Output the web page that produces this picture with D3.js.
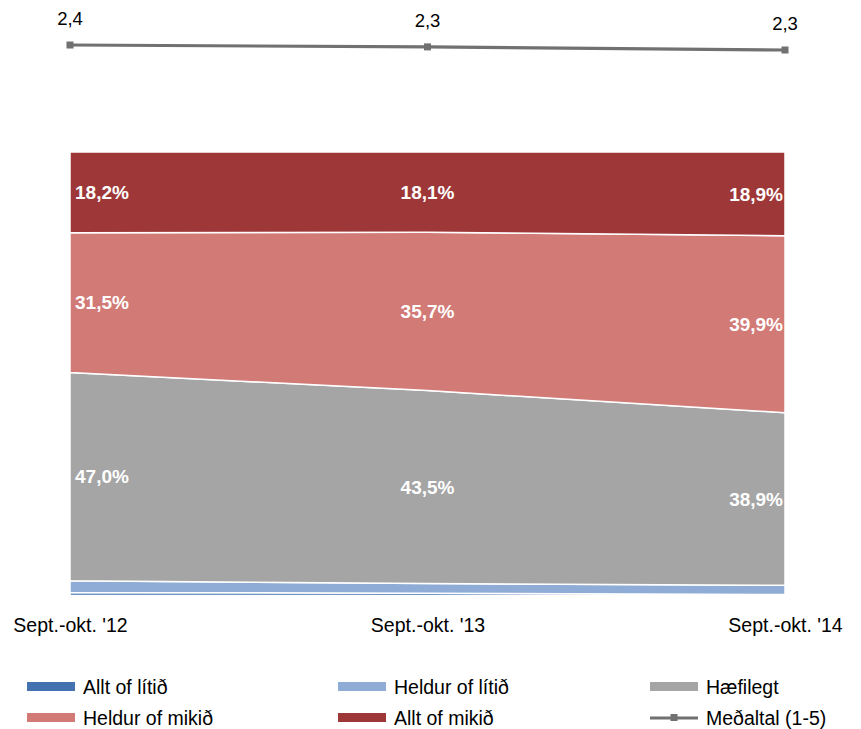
<!DOCTYPE html>
<html><head><meta charset="utf-8">
<script src="https://cdn.jsdelivr.net/npm/d3@7"></script>
<style>
body{margin:0;background:#fff;}
svg{display:block;font-family:"Liberation Sans Narrow","Liberation Sans",Arial,sans-serif;}
</style></head>
<body>
<svg id="c" width="861" height="729"></svg>
<script>
const categories = ["Sept.-okt. '12", "Sept.-okt. '13", "Sept.-okt. '14"];
const seriesNames = ["Allt of lítið", "Heldur of lítið", "Hæfilegt", "Heldur of mikið", "Allt of mikið"];
const alltOfLitid = [0.7, 0.5, 0.2];
const heldurOfLitid = [2.6, 2.2, 2.1];
const haefilegt = [47.0, 43.5, 38.9];
const heldurOfMikid = [31.5, 35.7, 39.9];
const alltOfMikid = [18.2, 18.1, 18.9];
const medaltal = [2.37, 2.34, 2.29];
const colors = ["#4472B0", "#8EACD6", "#A5A5A5", "#D17A76", "#9E3838"];
const lineColor = "#717171";
const showLabel = [false, false, true, true, true];

const svg = d3.select("#c");
const x = d3.scalePoint().domain(categories).range([70, 785]);
const y = d3.scaleLinear().domain([0, 100]).range([595.5, 152]);
const yMean = d3.scaleLinear().domain([2.0, 2.5]).range([68.1, 36.9]);

const table = categories.map((c, i) => ({
  cat: c,
  [seriesNames[0]]: alltOfLitid[i],
  [seriesNames[1]]: heldurOfLitid[i],
  [seriesNames[2]]: haefilegt[i],
  [seriesNames[3]]: heldurOfMikid[i],
  [seriesNames[4]]: alltOfMikid[i]
}));
const stacked = d3.stack().keys(seriesNames)(table);

const area = d3.area()
  .x(d => x(d.data.cat))
  .y0(d => y(d[0]))
  .y1(d => y(d[1]));

svg.append("g").selectAll("path").data(stacked).join("path")
  .attr("d", area)
  .attr("fill", (d, i) => colors[i])
  .attr("stroke", "#fff")
  .attr("stroke-width", 1.5);

// percentage labels
const fmtPct = v => d3.format(".1f")(v).replace(".", ",") + "%";
stacked.forEach((s, si) => {
  if (!showLabel[si]) return;
  s.forEach((d, i) => {
    const anchor = i === 0 ? "start" : (i === categories.length - 1 ? "end" : "middle");
    const dx = i === 0 ? 5 : (i === categories.length - 1 ? -2 : 0);
    svg.append("text")
      .attr("x", x(d.data.cat) + dx)
      .attr("y", (y(d[0]) + y(d[1])) / 2)
      .attr("dy", "0.36em")
      .attr("text-anchor", anchor)
      .attr("fill", "#fff")
      .attr("font-family", "'Liberation Sans',Arial,sans-serif")
      .attr("font-weight", "bold")
      .attr("font-size", 19)
      .text(fmtPct(d[1] - d[0]));
  });
});

// category axis labels
const xAxis = d3.axisBottom(x).tickSize(0).tickPadding(0);
const gx = svg.append("g").attr("transform", "translate(0,0)").call(xAxis);
gx.select(".domain").remove();
gx.selectAll("text").attr("font-size", 19.5).attr("fill", "#000")
  .attr("font-family", "'Liberation Sans Narrow','Liberation Sans',Arial,sans-serif")
  .attr("y", 632).attr("dy", 0)
  .attr("text-anchor", "middle");

// mean line
const line = d3.line().x((d, i) => x(categories[i])).y(d => yMean(d));
svg.append("path").datum(medaltal).attr("d", line)
  .attr("fill", "none").attr("stroke", lineColor).attr("stroke-width", 3.2);
svg.append("g").selectAll("rect").data(medaltal).join("rect")
  .attr("x", (d, i) => x(categories[i]) - 3.5)
  .attr("y", d => yMean(d) - 3.5)
  .attr("width", 7).attr("height", 7)
  .attr("fill", lineColor);
const fmtMean = v => d3.format(".1f")(v).replace(".", ",");
svg.append("g").selectAll("text").data(medaltal).join("text")
  .attr("x", (d, i) => x(categories[i]))
  .attr("y", d => yMean(d) - 20)
  .attr("text-anchor", "middle")
  .attr("font-family", "'Liberation Sans',Arial,sans-serif")
  .attr("font-size", 18.5)
  .attr("fill", "#000")
  .text(d => fmtMean(d));

// legend
const legendItems = [
  {name: seriesNames[0], color: colors[0], type: "rect"},
  {name: seriesNames[1], color: colors[1], type: "rect"},
  {name: seriesNames[2], color: colors[2], type: "rect"},
  {name: seriesNames[3], color: colors[3], type: "rect"},
  {name: seriesNames[4], color: colors[4], type: "rect"},
  {name: "Meðaltal (1-5)", color: lineColor, type: "line"}
];
const colX = [27, 338, 650];
const rowY = [687, 718];
legendItems.forEach((it, i) => {
  const gx0 = colX[i % 3], gy = rowY[Math.floor(i / 3)];
  const g = svg.append("g");
  if (it.type === "rect") {
    g.append("rect").attr("x", gx0).attr("y", gy - 5).attr("width", 48).attr("height", 9).attr("fill", it.color);
  } else {
    g.append("line").attr("x1", gx0).attr("x2", gx0 + 48).attr("y1", gy).attr("y2", gy)
      .attr("stroke", it.color).attr("stroke-width", 3.2);
    g.append("rect").attr("x", gx0 + 20.5).attr("y", gy - 4).attr("width", 7).attr("height", 7).attr("fill", it.color);
  }
  g.append("text").attr("x", gx0 + 56).attr("y", gy).attr("dy", "0.36em")
    .attr("font-size", 19.5).attr("fill", "#000").text(it.name);
});
</script>
</body></html>
